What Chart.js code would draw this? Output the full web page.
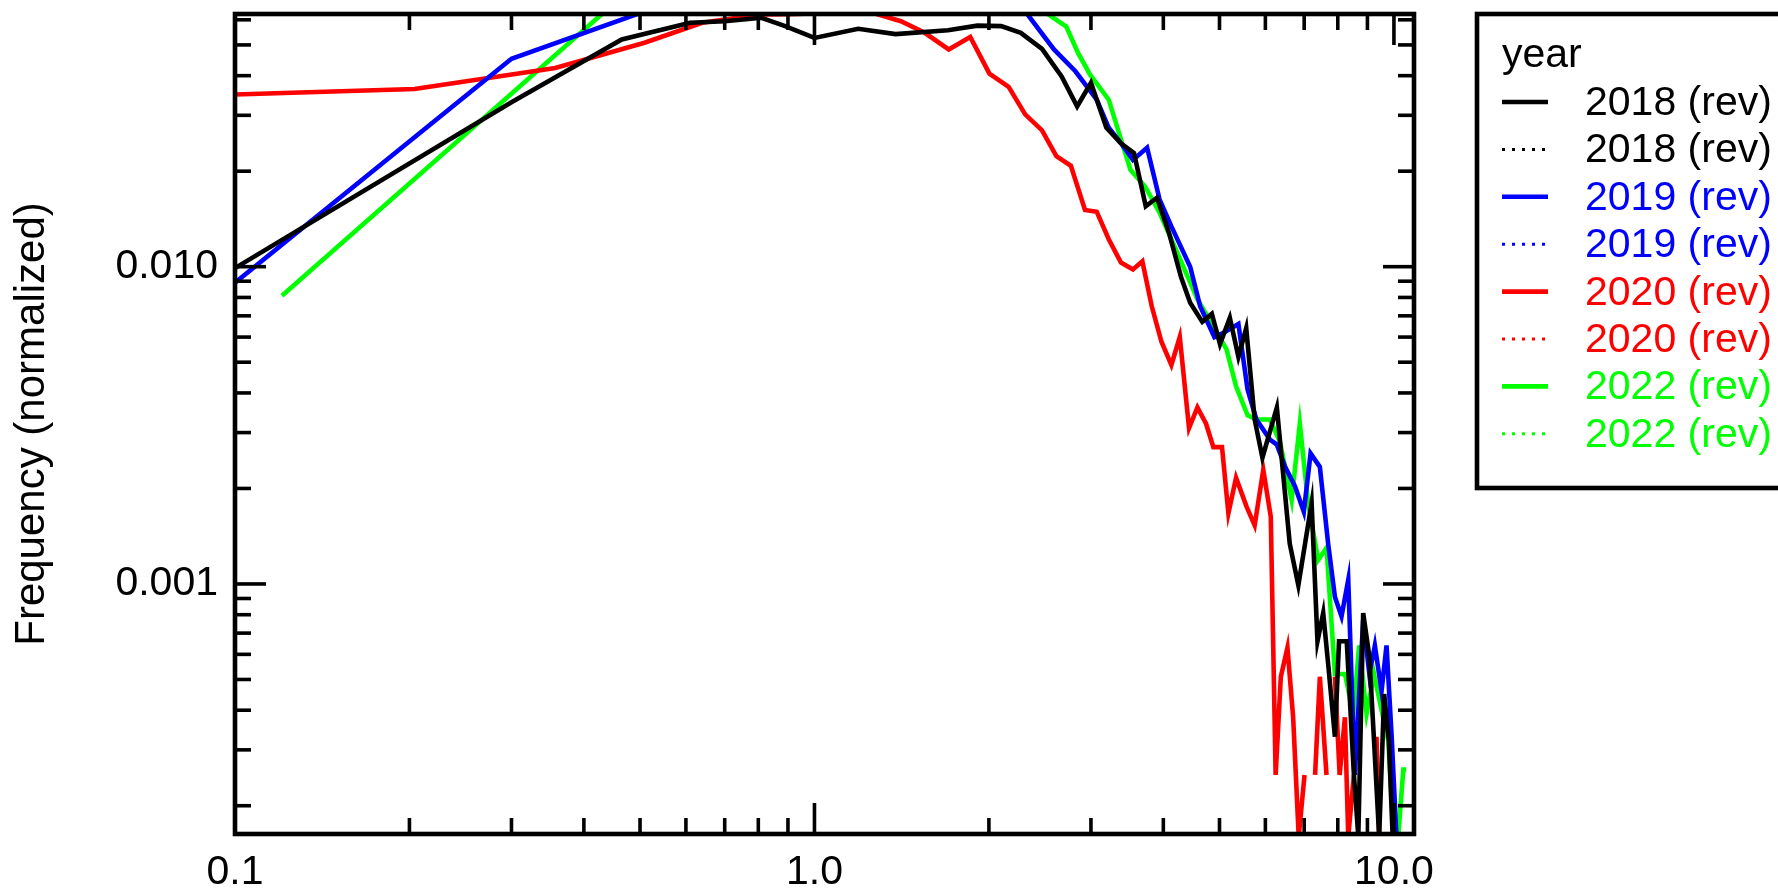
<!DOCTYPE html>
<html>
<head>
<meta charset="utf-8">
<script src="https://cdn.jsdelivr.net/npm/chart.js@4.4.1/dist/chart.umd.min.js"></script>
<style>
html,body{margin:0;padding:0;background:#ffffff;}
#wrap{width:1778px;height:893px;position:relative;}
</style>
</head>
<body>
<div id="wrap"><canvas id="c" width="1778" height="893"></canvas></div>
<script>
// ---------------- data ----------------
const seriesLabels = ['2018 (rev)', '2018 (rev)', '2019 (rev)', '2019 (rev)', '2020 (rev)', '2020 (rev)', '2022 (rev)', '2022 (rev)'];
const legendTitle = 'year';

const x2018 = [0.1, 0.3, 0.465, 0.61, 0.70, 0.81, 0.89, 1.0, 1.19, 1.38, 1.70, 1.91, 2.10, 2.27, 2.47, 2.67, 2.84, 3.00, 3.19, 3.38, 3.56, 3.73, 3.90, 4.09, 4.29, 4.45, 4.67, 4.85, 5.01, 5.21, 5.39, 5.56, 5.75, 5.93, 6.28, 6.61, 6.84, 7.21, 7.38, 7.55, 7.70, 7.91, 8.04, 8.29, 8.53, 8.68, 8.85, 9.07, 9.24, 9.43, 9.62, 9.80, 9.95];
const y2018 = [0.0099, 0.033, 0.052, 0.0587, 0.0594, 0.0609, 0.0573, 0.0526, 0.0562, 0.0541, 0.0556, 0.0575, 0.0573, 0.0546, 0.0486, 0.0398, 0.032, 0.038, 0.0274, 0.0245, 0.0228, 0.0155, 0.0165, 0.0128, 0.0093, 0.0077, 0.0067, 0.0071, 0.0057, 0.0069, 0.0052, 0.0064, 0.0033, 0.0025, 0.0036, 0.00134, 0.00099, 0.0018, 0.00066, 0.00081, 0.00056, 0.00033, 0.00066, 0.00066, 0.00025, 0.00016, 0.00081, 0.00059, 0.00032, 0.00016, 0.00045, 0.00032, 0.00016];

const x2019 = [0.1, 0.3, 0.5, 0.7, 1.0, 1.5, 2.0, 2.25, 2.59, 2.82, 3.07, 3.22, 3.38, 3.545, 3.75, 3.94, 4.13, 4.45, 4.63, 4.90, 5.09, 5.39, 5.59, 5.79, 6.11, 6.28, 6.49, 6.75, 6.99, 7.18, 7.45, 7.70, 7.91, 8.12, 8.34, 8.56, 8.85, 9.07, 9.27, 9.52, 9.71, 9.91, 10.1];
const y2019 = [0.0089, 0.0452, 0.063, 0.072, 0.075, 0.074, 0.072, 0.068, 0.0484, 0.0413, 0.0336, 0.0274, 0.0245, 0.0217, 0.0237, 0.0163, 0.0134, 0.0100, 0.0075, 0.0060, 0.0062, 0.0066, 0.0041, 0.0033, 0.00285, 0.00275, 0.00234, 0.00203, 0.00169, 0.00258, 0.00234, 0.00134, 0.00091, 0.00079, 0.00103, 0.00025, 0.00077, 0.00052, 0.00064, 0.00046, 0.00064, 0.00033, 0.00016];

const x2020 = [0.1, 0.204, 0.357, 0.509, 0.64, 0.81, 0.90, 0.96, 1.05, 1.2, 1.41, 1.55, 1.705, 1.857, 2.004, 2.163, 2.31, 2.47, 2.615, 2.77, 2.93, 3.07, 3.22, 3.38, 3.545, 3.68, 3.82, 3.97, 4.13, 4.27, 4.43, 4.58, 4.74, 4.88, 5.05, 5.18, 5.34, 5.57, 5.75, 5.95, 6.13, 6.25, 6.38, 6.55, 6.70, 6.85, 7.01, 7.15, 7.31, 7.45, 7.65, 7.78, 7.91, 8.06, 8.23, 8.34, 8.53, 8.9, 9.33, 9.43];
const y2020 = [0.0349, 0.0363, 0.0423, 0.0508, 0.0587, 0.0624, 0.0625, 0.0627, 0.07, 0.0648, 0.0594, 0.0546, 0.0484, 0.053, 0.0406, 0.0369, 0.0302, 0.0269, 0.0223, 0.0208, 0.0151, 0.0149, 0.0122, 0.0103, 0.0098, 0.0104, 0.0075, 0.0058, 0.0049, 0.0060, 0.0031, 0.0036, 0.0032, 0.0027, 0.0027, 0.00167, 0.00216, 0.00175, 0.00153, 0.00229, 0.00163, 0.00025, 0.00051, 0.00063, 0.00038, 0.00016, 0.00025, null, 0.00025, 0.00051, 0.00025, null, 0.00051, 0.00025, 0.00038, 0.00016, 0.00025, null, 0.00033, 0.00016];

const x2022 = [0.1205, 0.52, 0.8, 1.2, 1.8, 2.42, 2.72, 2.85, 2.99, 3.22, 3.38, 3.51, 3.72, 3.94, 4.13, 4.33, 4.58, 4.85, 5.14, 5.34, 5.59, 5.79, 6.11, 6.36, 6.66, 6.88, 7.11, 7.40, 7.65, 7.91, 8.23, 8.51, 8.71, 8.97, 9.24, 9.52, 9.78, 9.99, 10.17, 10.38, 10.5];
const y2022 = [0.0081, 0.085, 0.09, 0.09, 0.085, 0.066, 0.0571, 0.0472, 0.0403, 0.0336, 0.0252, 0.0202, 0.0179, 0.0148, 0.0122, 0.0100, 0.0079, 0.0066, 0.0055, 0.0042, 0.0034, 0.0033, 0.0033, 0.0028, 0.00184, 0.0032, 0.0018, 0.00119, 0.0013, 0.00052, 0.00052, 0.00039, 0.00064, 0.00039, 0.00052, 0.0004, 0.00032, 0.00016, 0.00016, 0.00026, 0.00026];

const xRange = [0.1, 10.83];
const yRange = [0.0001629, 0.06258];
const xTickValues = [0.1, 1, 10];
const xTickLabels = ['0.1', '1.0', '10.0'];
const xMinorTicks = [0.2, 0.3, 0.4, 0.5, 0.6, 0.7, 0.8, 0.9, 2, 3, 4, 5, 6, 7, 8, 9];
const yTickValues = [0.001, 0.01];
const yTickLabels = ['0.001', '0.010'];
const yMinorTicks = [0.0002, 0.0003, 0.0004, 0.0005, 0.0006, 0.0007, 0.0008, 0.0009, 0.002, 0.003, 0.004, 0.005, 0.006, 0.007, 0.008, 0.009, 0.02, 0.03, 0.04, 0.05, 0.06];
const yTitle = 'Frequency (normalized)';

// ---------------- chart ----------------
const FONT = "'Liberation Sans', Arial, Helvetica, sans-serif";
const FS = 41;
Chart.defaults.color = '#000000';
Chart.defaults.font.family = FONT;

function pts(xs, ys) { return xs.map((x, i) => ({x: x, y: ys[i]})); }

function mk(label, data, color, dash) {
  return {
    label: label, data: data, borderColor: color, backgroundColor: color,
    borderWidth: 4.6, borderDash: dash, pointRadius: 0, fill: false,
    tension: 0, spanGaps: false, borderJoinStyle: 'miter', borderCapStyle: 'butt'
  };
}

const datasets = [
  mk(seriesLabels[0], pts(x2018, y2018), '#000000', []),
  mk(seriesLabels[1], [], '#000000', [3, 7]),
  mk(seriesLabels[2], pts(x2019, y2019), '#0000ff', []),
  mk(seriesLabels[3], [], '#0000ff', [3, 7]),
  mk(seriesLabels[4], pts(x2020, y2020), '#ff0000', []),
  mk(seriesLabels[5], [], '#ff0000', [3, 7]),
  mk(seriesLabels[6], pts(x2022, y2022), '#00ff00', []),
  mk(seriesLabels[7], [], '#00ff00', [3, 7])
];

const framePlugin = {
  id: 'frame',
  afterDatasetsDraw(chart) {
    const ctx = chart.ctx;
    const a = chart.chartArea;
    const sx = chart.scales.x, sy = chart.scales.y;
    ctx.save();
    ctx.strokeStyle = '#000000';
    ctx.lineCap = 'butt';
    ctx.setLineDash([]);
    function seg(x1, y1, x2, y2) { ctx.beginPath(); ctx.moveTo(x1, y1); ctx.lineTo(x2, y2); ctx.stroke(); }
    ctx.lineWidth = 3.6;
    xTickValues.forEach(v => { const p = sx.getPixelForValue(v); seg(p, a.bottom, p, a.bottom - 31); seg(p, a.top, p, a.top + 31); });
    xMinorTicks.forEach(v => { const p = sx.getPixelForValue(v); seg(p, a.bottom, p, a.bottom - 16); seg(p, a.top, p, a.top + 16); });
    yTickValues.forEach(v => { const p = sy.getPixelForValue(v); seg(a.left, p, a.left + 31, p); seg(a.right, p, a.right - 31, p); });
    yMinorTicks.forEach(v => { const p = sy.getPixelForValue(v); seg(a.left, p, a.left + 16, p); seg(a.right, p, a.right - 16, p); });
    ctx.lineWidth = 4.6;
    ctx.strokeRect(a.left, a.top, a.right - a.left, a.bottom - a.top);
    ctx.restore();
  }
};

const legendPlugin = {
  id: 'boxLegend',
  afterDraw(chart) {
    const ctx = chart.ctx;
    ctx.save();
    ctx.lineWidth = 4.6;
    ctx.strokeStyle = '#000000';
    ctx.setLineDash([]);
    ctx.strokeRect(1477, 14, 340, 474);
    ctx.font = FS + 'px ' + FONT;
    ctx.textBaseline = 'alphabetic';
    ctx.textAlign = 'left';
    ctx.fillStyle = '#000000';
    ctx.fillText(legendTitle, 1502, 67);
    chart.data.datasets.forEach((ds, i) => {
      const base = 115 + i * 47.4;
      const ly = base - 13;
      ctx.strokeStyle = ds.borderColor;
      const dotted = ds.borderDash && ds.borderDash.length;
      ctx.lineWidth = dotted ? 3 : 4.6;
      ctx.setLineDash(dotted ? ds.borderDash : []);
      ctx.beginPath(); ctx.moveTo(1502, ly); ctx.lineTo(1548, ly); ctx.stroke();
      ctx.setLineDash([]);
      ctx.fillStyle = ds.borderColor;
      ctx.fillText(ds.label, 1585, base);
    });
    ctx.restore();
  }
};

new Chart(document.getElementById('c'), {
  type: 'line',
  data: { datasets: datasets },
  plugins: [framePlugin, legendPlugin],
  options: {
    responsive: false,
    animation: false,
    devicePixelRatio: 1,
    layout: { padding: { top: 14, right: 1778 - 1414, left: 0, bottom: 0 } },
    plugins: { legend: { display: false }, tooltip: { enabled: false } },
    scales: {
      x: {
        type: 'logarithmic', position: 'bottom',
        min: xRange[0], max: xRange[1],
        afterBuildTicks: s => { s.ticks = xTickValues.map(v => ({ value: v })); },
        afterFit: s => { s.height = 893 - 834; s.paddingLeft = 0; s.paddingRight = 0; },
        ticks: {
          autoSkip: false, maxRotation: 0, minRotation: 0, padding: 14, color: '#000000',
          font: { family: FONT, size: FS },
          callback: (v, i) => xTickLabels[i]
        },
        grid: { display: false, drawTicks: false, tickLength: 0 },
        border: { display: false }
      },
      y: {
        type: 'logarithmic', position: 'left',
        min: yRange[0], max: yRange[1],
        afterBuildTicks: s => { s.ticks = yTickValues.map(v => ({ value: v })); },
        afterFit: s => { s.width = 235; s.paddingTop = 0; s.paddingBottom = 0; },
        ticks: {
          autoSkip: false, padding: 17, color: '#000000',
          font: { family: FONT, size: FS },
          callback: (v, i) => yTickLabels[i]
        },
        grid: { display: false, drawTicks: false, tickLength: 0 },
        border: { display: false },
        title: {
          display: true, text: yTitle, color: '#000000',
          font: { family: FONT, size: 42 },
          padding: { top: 7, bottom: 0 }
        }
      }
    }
  }
});
</script>
</body>
</html>
